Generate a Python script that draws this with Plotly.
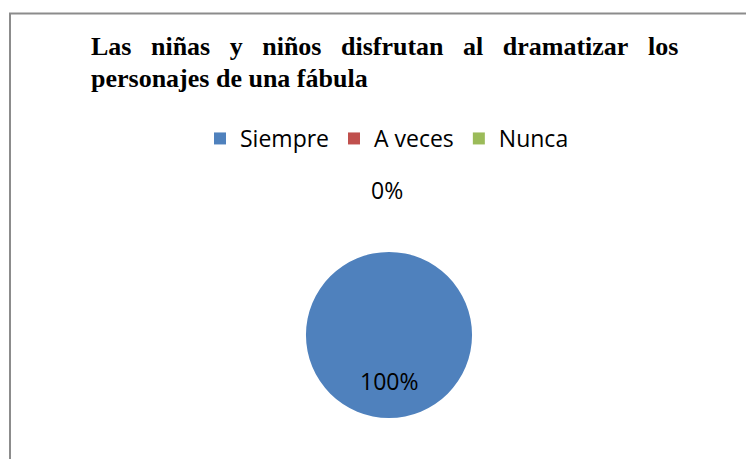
import plotly.graph_objects as go

categories = ["Siempre", "A veces", "Nunca"]
values = [100, 0, 0]
colors = ["#4F81BD", "#C0504D", "#9BBB59"]
title_lines = ["Las niñas y niños disfrutan al dramatizar los", "personajes de una fábula"]

total = sum(values)
pcts = [f"{round(v / total * 100)}%" for v in values]

OFF = 8  # default page body margin
W, H = 754 - OFF, 459 - OFF


def px(x):
    return (x - OFF) / W


def py(y):
    return 1 - (y - OFF) / H


fig = go.Figure()
fig.add_trace(go.Pie(
    labels=categories,
    values=values,
    marker=dict(colors=colors, line=dict(width=0)),
    sort=False,
    direction="clockwise",
    textinfo="none",
    hoverinfo="label+percent",
    domain=dict(x=[px(389 - 83), px(389 + 83)], y=[py(335 + 83), py(335 - 83)]),
    showlegend=True,
))

title_font = dict(family="Liberation Serif", size=26, color="black")
line1 = "\u00a0\u00a0\u00a0".join(title_lines[0].split(" "))
annotations = [
    dict(text=f"<b>{line1}</b>", x=px(89), y=py(30), xref="paper", yref="paper",
         xanchor="left", yanchor="top", showarrow=False, font=title_font),
    dict(text=f"<b>{title_lines[1]}</b>", x=px(89), y=py(62), xref="paper", yref="paper",
         xanchor="left", yanchor="top", showarrow=False, font=title_font),
]
label_font = dict(family="Open Sans", size=23, color="black")
annotations.append(dict(text=pcts[0], x=px(389), y=py(381), xref="paper", yref="paper",
                        xanchor="center", yanchor="middle", showarrow=False, font=label_font))
annotations.append(dict(text=pcts[1], x=px(387), y=py(190), xref="paper", yref="paper",
                        xanchor="center", yanchor="middle", showarrow=False, font=label_font))

fig.update_layout(
    width=W, height=H,
    margin=dict(l=0, r=0, t=0, b=0),
    paper_bgcolor="white",
    plot_bgcolor="white",
    annotations=annotations,
    legend=dict(orientation="h", x=px(200), xanchor="left", y=py(117), yanchor="top",
                font=dict(family="Open Sans", size=23, color="black"),
                traceorder="normal"),
    shapes=[dict(type="path", xref="paper", yref="paper",
                 path=f"M {px(10)},-0.3 L {px(10)},{py(13.5)} L 1.3,{py(13.5)}",
                 line=dict(color="#8c8c8c", width=2))],
)

fig.write_html("out.html")
